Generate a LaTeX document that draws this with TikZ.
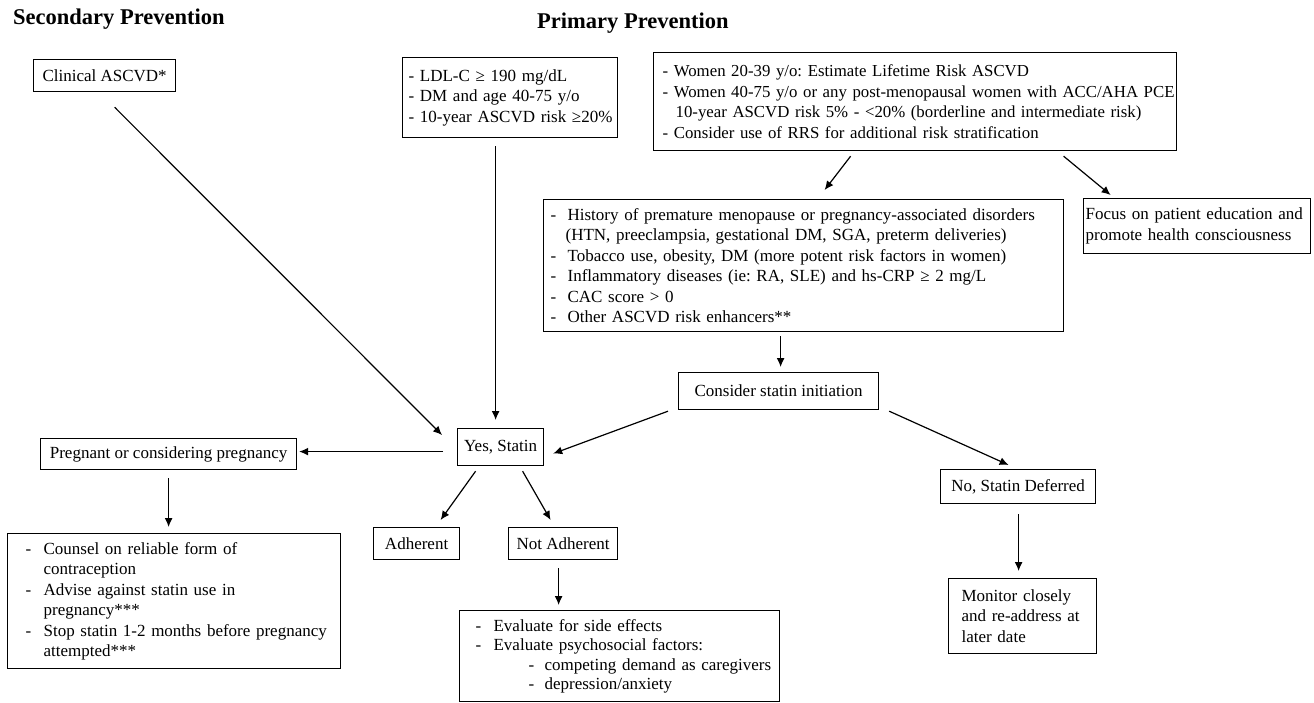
\documentclass[tikz,border=0pt]{standalone}
\usepackage{fontspec}
\setmainfont{Liberation Serif}
\usetikzlibrary{arrows.meta,calc}
\frenchspacing
\newcommand{\row}[1]{\mbox{#1}}
\newcommand{\dl}[2][17pt]{\mbox{\makebox[#1][l]{-}#2}}
\newcommand{\cl}[2][17pt]{\mbox{\hspace*{#1}#2}}
\tikzset{
	box/.style={draw, line width=1.2pt, anchor=north west, inner sep=0pt, font=\fontsize{17}{20.5}\selectfont},
	lbox/.style={box, align=left},
	arr/.style={-{Latex[length=9pt,width=8pt]}, line width=1.2pt},
	ttl/.style={anchor=base west, inner sep=0pt, font=\fontsize{22.5}{27}\selectfont\bfseries}
}
\begin{document}
\begin{tikzpicture}[x=1pt,y=-1pt]
	\fill[white] (0,0) rectangle (1314,703);
	\useasboundingbox (0,0) rectangle (1314,703);

	\node[ttl] (sect) at (13,25) {Secondary Prevention};
	\node[ttl] (primt) at (537,29) {Primary Prevention};

	\node[box, minimum width=142, minimum height=32] (clin) at (33,59) {Clinical ASCVD*};
	\node[lbox, minimum height=80, text width=203, inner xsep=6] (ldl) at (402,57)
		{\row{- LDL-C ≥ 190 mg/dL}\\\row{- DM and age 40-75 y/o}\\\row{- 10-year ASCVD risk ≥20\%}};
	\node[lbox, minimum height=98, text width=505, inner xsep=9, font=\fontsize{16.8}{20.5}\selectfont] (women) at (653,52)
		{\row{- Women 20-39 y/o: Estimate Lifetime Risk ASCVD}\\
		 \row{- Women 40-75 y/o or any post-menopausal women with ACC/AHA PCE}\\
		 \cl[13pt]{10-year ASCVD risk 5\% - <20\% (borderline and intermediate risk)}\\
		 \row{- Consider use of RRS for additional risk stratification}};
	\node[lbox, minimum height=132, text width=506, inner xsep=7] (hist) at (543,199)
		{\dl{History of premature menopause or pregnancy-associated disorders}\\
		 \cl[15pt]{(HTN, preeclampsia, gestational DM, SGA, preterm deliveries)}\\
		 \dl{Tobacco use, obesity, DM (more potent risk factors in women)}\\
		 \dl{Inflammatory diseases (ie: RA, SLE) and hs-CRP ≥ 2 mg/L}\\
		 \dl{CAC score > 0}\\
		 \dl{Other ASCVD risk enhancers**}};
	\node[lbox, minimum height=55, text width=223, inner xsep=2] (focus) at (1083,198)
		{\row{Focus on patient education and}\\\row{promote health consciousness}};

	\node[box, minimum width=200, minimum height=37] (consider) at (678,372) {Consider statin initiation};
	\node[box, minimum width=86, minimum height=37] (yes) at (457,428) {Yes, Statin};
	\node[box, minimum width=256, minimum height=31] (preg) at (40,438) {Pregnant or considering pregnancy};
	\node[lbox, minimum height=135, text width=297, inner xsep=18] (couns) at (7,533)
		{\dl[18pt]{Counsel on reliable form of}\\\cl[18pt]{contraception}\\
		 \dl[18pt]{Advise against statin use in}\\\cl[18pt]{pregnancy***}\\
		 \dl[18pt]{Stop statin 1-2 months before pregnancy}\\\cl[18pt]{attempted***}};
	\node[box, minimum width=86, minimum height=32] (adh) at (373,527) {Adherent};
	\node[box, minimum width=109, minimum height=32] (nadh) at (508,527) {Not Adherent};
	\node[lbox, minimum height=91, text width=288, inner xsep=16, font=\fontsize{17}{19.5}\selectfont] (evalb) at (459,610)
		{\dl[18pt]{Evaluate for side effects}\\
		 \dl[18pt]{Evaluate psychosocial factors:}\\
		 \cl[53pt]{\dl[16pt]{competing demand as caregivers}}\\
		 \cl[53pt]{\dl[16pt]{depression/anxiety}}};
	\node[box, minimum width=155, minimum height=34] (nodef) at (940,469) {No, Statin Deferred};
	\node[lbox, minimum height=75, text width=122, inner xsep=13] (monit) at (948,578)
		{\row{Monitor closely}\\\row{and re-address at}\\\row{later date}};

	\draw[arr] ($(clin.south)+(10,15)$) -- ($(yes.north west)+(-15,7)$);
	\draw[arr] ($(ldl.south)+(-14.5,8)$) -- ($(yes.north)+(-5,-8)$);
	\draw[arr] ($(women.south)+(-64.5,5)$) -- ($(hist.north)+(21,-9)$);
	\draw[arr] ($(women.south)+(148.5,5)$) -- ($(focus.north)+(-86.5,-3)$);
	\draw[arr] ($(hist.south)+(-23,4)$) -- ($(consider.north)+(2,-5)$);
	\draw[arr] ($(consider.south west)+(-10,1)$) -- ($(yes.east)+(9,6.5)$);
	\draw[arr] ($(consider.south east)+(10,1)$) -- ($(nodef.north)+(-9.5,-4)$);
	\draw[arr] ($(yes.west)+(-14,4.5)$) -- ($(preg.east)+(2,-2.5)$);
	\draw[arr] ($(preg.south)+(0,8)$) -- ($(couns.north)+(-5.5,-6)$);
	\draw[arr] ($(yes.south)+(-25,5)$) -- ($(adh.north)+(24,-7)$);
	\draw[arr] ($(yes.south)+(22,5)$) -- ($(nadh.north)+(-12.5,-7)$);
	\draw[arr] ($(nadh.south)+(-4.5,8)$) -- ($(evalb.north)+(-61,-5)$);
	\draw[arr] ($(nodef.south)+(0.5,10)$) -- ($(monit.north)+(-4,-7)$);
\end{tikzpicture}
\end{document}
